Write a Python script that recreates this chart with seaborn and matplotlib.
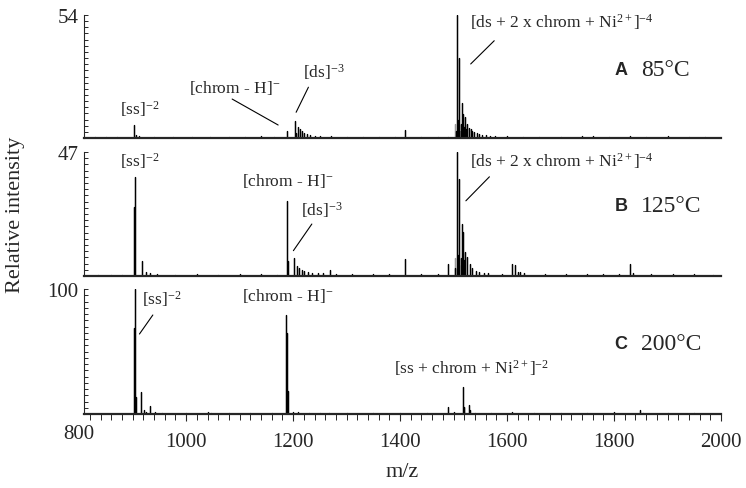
import numpy as np
import pandas as pd
import matplotlib
matplotlib.use("Agg")
import matplotlib.pyplot as plt
import seaborn as sns

sns.set_theme(style="ticks")
plt.rcParams['font.family'] = ['Liberation Serif', 'DejaVu Serif']
plt.rcParams['mathtext.fontset'] = 'custom'
plt.rcParams['mathtext.rm'] = 'Liberation Serif'
plt.rcParams['mathtext.it'] = 'Liberation Serif:italic'
plt.rcParams['mathtext.bf'] = 'Liberation Serif:bold'

# ---------------- data (m/z, relative intensity) ----------------
mz_A = [830, 850, 870, 903, 906, 912, 940, 975, 1010, 1045, 1080, 1110, 1140, 1165,
        1189, 1203, 1206, 1209, 1213, 1217, 1221, 1226, 1232, 1240, 1250, 1270, 1300,
        1330, 1360, 1390, 1409, 1440, 1470, 1490, 1504, 1506, 1508, 1510, 1513, 1515,
        1518, 1520, 1522, 1524, 1526, 1529, 1532, 1535, 1539, 1543, 1548, 1554, 1560,
        1568, 1578, 1600, 1630, 1660, 1700, 1740, 1760, 1790, 1830, 1860, 1900, 1940, 1970]
int_A = [0.4, 0.5, 0.3, 5.7, 1.2, 0.8, 0.5, 0.6, 0.4, 0.5, 0.6, 0.5, 0.7, 0.6,
         3.2, 7.3, 2.0, 4.8, 4.0, 3.0, 2.2, 1.6, 1.2, 1.0, 0.8, 0.7, 0.6,
         0.5, 0.6, 0.5, 3.5, 0.6, 0.5, 0.6, 3.0, 54.0, 8.0, 35.0, 6.0, 15.4,
         10.5, 5.0, 9.2, 4.0, 6.0, 4.5, 3.8, 3.2, 2.6, 2.2, 1.8, 1.5, 1.2,
         1.0, 0.8, 0.7, 0.6, 0.5, 0.6, 0.8, 0.7, 0.6, 0.7, 0.6, 0.7, 0.6, 0.5]
grey_mz_A = [1503, 1512]
grey_int_A = [6.0, 3.0]

mz_B = [835, 860, 880, 902, 903.5, 905, 917, 925, 932, 945, 980, 1020, 1060, 1100,
        1140, 1170, 1188, 1191, 1202, 1207, 1211, 1216, 1221, 1228, 1236, 1246, 1256,
        1269, 1280, 1310, 1350, 1380, 1409, 1440, 1470, 1490, 1503, 1506, 1508, 1510,
        1513, 1515, 1518, 1520, 1522, 1526, 1530, 1535, 1541, 1548, 1556, 1565, 1590,
        1609, 1615, 1620, 1624, 1632, 1670, 1710, 1750, 1780, 1810, 1830, 1836, 1870,
        1910, 1950, 1985]
int_B = [0.4, 0.5, 0.4, 26.0, 37.4, 7.2, 5.8, 1.5, 1.2, 0.8, 0.5, 0.6, 0.5, 0.6,
         0.7, 0.5, 28.5, 5.8, 6.8, 3.9, 3.0, 2.4, 2.0, 1.6, 1.3, 1.1, 1.2,
         2.3, 0.9, 0.6, 0.7, 0.6, 6.4, 0.7, 0.6, 4.5, 3.0, 47.0, 8.0, 36.8,
         7.0, 19.7, 16.7, 6.0, 9.0, 7.2, 4.5, 3.0, 2.0, 1.5, 1.2, 1.0, 0.7,
         4.5, 4.0, 1.5, 1.5, 1.0, 0.6, 0.7, 0.8, 0.6, 0.7, 4.5, 1.0, 0.6,
         0.7, 0.6, 0.5]
grey_mz_B = [1503.5, 1511]
grey_int_B = [7.0, 4.0]

mz_C = [840, 870, 902, 904, 905.5, 915, 922, 925, 933, 942, 955, 1000, 1041, 1046,
        1080, 1120, 1160, 1187.5, 1189, 1190.5, 1200, 1210, 1230, 1250, 1268, 1300,
        1350, 1400, 1450, 1489, 1500, 1517, 1519, 1528, 1531, 1540, 1570, 1610, 1650,
        1700, 1750, 1800, 1849, 1855, 1900, 1950]
int_C = [0.3, 0.4, 69.0, 100.0, 13.6, 17.3, 3.0, 2.0, 6.7, 2.0, 0.8, 0.5, 2.0, 1.0,
         0.5, 0.6, 0.7, 79.5, 65.0, 18.7, 2.0, 1.5, 1.2, 1.0, 1.2, 0.6,
         0.7, 0.6, 0.8, 5.3, 2.0, 21.3, 6.0, 7.2, 3.0, 1.2, 0.6, 1.5, 0.7,
         0.8, 0.7, 1.5, 3.0, 1.0, 0.7, 0.6]
grey_mz_C = [1519.5]
grey_int_C = [6.0]

y_tops = [54, 47, 100]
panel_letters = ["A", "B", "C"]
temps = ["85°C", "125°C", "200°C"]
x_range = (809, 2000)
x_major = [1000, 1200, 1400, 1600, 1800, 2000]


def sticks(mz, inten, lo=None, hi=None):
    xs, ys = [], []
    if lo is not None:
        xs.append(lo); ys.append(0.0)
    for m, h in zip(mz, inten):
        xs += [m, m, m]
        ys += [0.0, h, 0.0]
    if hi is not None:
        xs.append(hi); ys.append(0.0)
    return pd.DataFrame({"mz": xs, "intensity": ys})


fig = plt.figure(figsize=(7.46, 4.89), dpi=100)
W, H = 746, 489
left, right = 84, 721
panels_px = [(16, 139), (153, 277), (290, 415)]
axes = []
for (top, bot) in panels_px:
    ax = fig.add_axes([left / W, 1 - bot / H, (right - left) / W, (bot - top) / H])
    axes.append(ax)

data = [(mz_A, int_A, grey_mz_A, grey_int_A),
        (mz_B, int_B, grey_mz_B, grey_int_B),
        (mz_C, int_C, grey_mz_C, grey_int_C)]
label_y = [0.56, 0.57, 0.56]

for i, ax in enumerate(axes):
    mz, inten, gmz, gint = data[i]
    sns.lineplot(data=sticks(gmz, gint), x="mz", y="intensity", ax=ax,
                 color="#9a9a9a", lw=0.9, sort=False, estimator=None)
    sns.lineplot(data=sticks(mz, inten, x_range[0], x_range[1]), x="mz", y="intensity",
                 ax=ax, color="black", lw=0.9, sort=False, estimator=None)
    ax.set_xlim(*x_range)
    ax.set_ylim(0, y_tops[i])
    ax.set_xlabel("")
    ax.set_ylabel("")
    for s in ["top", "right"]:
        ax.spines[s].set_visible(False)
    ax.spines["left"].set_linewidth(0.8)
    ax.spines["bottom"].set_linewidth(1.6)
    yt = np.linspace(0, y_tops[i], 21)
    ax.set_yticks(yt)
    ax.set_yticklabels([""] * 20 + [str(y_tops[i])], fontsize=15)
    ax.tick_params(axis="y", direction="in", length=3, width=0.7, pad=4)
    if i < 2:
        ax.set_xticks([])
    else:
        ax.set_xticks(x_major)
        ax.set_xticklabels([str(v) for v in x_major], fontsize=15)
        ax.set_xticks(np.arange(820, 2001, 20), minor=True)
        ax.tick_params(axis="x", which="major", direction="out", length=5, width=0.8, pad=8)
        ax.tick_params(axis="x", which="minor", direction="out", length=4, width=0.7)
        ax.text(800, -0.08, "800", transform=ax.get_xaxis_transform(), ha="center",
                va="top", fontsize=15, clip_on=False)
        ax.set_xlabel("m/z", fontsize=16, labelpad=8)
    ax.patch.set_alpha(0)
    ax.text(1813, label_y[i] * y_tops[i], panel_letters[i], family="Liberation Sans",
            fontweight="bold", fontsize=13, ha="center", va="center")
    ax.text(1850, label_y[i] * y_tops[i], temps[i], fontsize=17, ha="left", va="center")

fs = 12.5
line_kw = dict(arrowstyle="-", lw=0.8, color="black", shrinkA=0, shrinkB=0)
axA, axB, axC = axes
# Panel A
axA.text(914, 13.2, "[ss]$^{-2}$", fontsize=fs, ha="center", va="center")
axA.text(1090, 22.4, "[chrom - H]$^{-}$", fontsize=fs, ha="center", va="center")
axA.annotate("", xy=(1172, 5.7), xytext=(1086, 17.1), arrowprops=line_kw)
axA.text(1257, 29.4, "[ds]$^{-3}$", fontsize=fs, ha="center", va="center")
axA.annotate("", xy=(1205.6, 11.3), xytext=(1228.6, 22.3), arrowprops=line_kw)
axA.text(1531, 51.4, "[ds + 2 x chrom + Ni$^{2+}$]$^{-4}$", fontsize=fs, ha="left", va="center")
axA.annotate("", xy=(1532, 32.5), xytext=(1576, 42.7), arrowprops=line_kw)
# Panel B
axB.text(914, 43.8, "[ss]$^{-2}$", fontsize=fs, ha="center", va="center")
axB.text(1190, 36.2, "[chrom - H]$^{-}$", fontsize=fs, ha="center", va="center")
axB.text(1253, 25.4, "[ds]$^{-3}$", fontsize=fs, ha="center", va="center")
axB.annotate("", xy=(1200.5, 9.6), xytext=(1235, 19.7), arrowprops=line_kw)
axB.text(1531, 44.0, "[ds + 2 x chrom + Ni$^{2+}$]$^{-4}$", fontsize=fs, ha="left", va="center")
axB.annotate("", xy=(1523, 28.5), xytext=(1567, 37.6), arrowprops=line_kw)
# Panel C
axC.text(954, 92.8, "[ss]$^{-2}$", fontsize=fs, ha="center", va="center")
axC.annotate("", xy=(912.7, 64), xytext=(937.7, 79.2), arrowprops=line_kw)
axC.text(1190, 94.8, "[chrom - H]$^{-}$", fontsize=fs, ha="center", va="center")
axC.text(1533.6, 37.2, "[ss + chrom + Ni$^{2+}$]$^{-2}$", fontsize=fs, ha="center", va="center")

fig.text(16 / W, 1 - 215 / H, "Relative intensity", rotation=90, fontsize=16,
         ha="center", va="center")

fig.savefig("out.png", dpi=100)
